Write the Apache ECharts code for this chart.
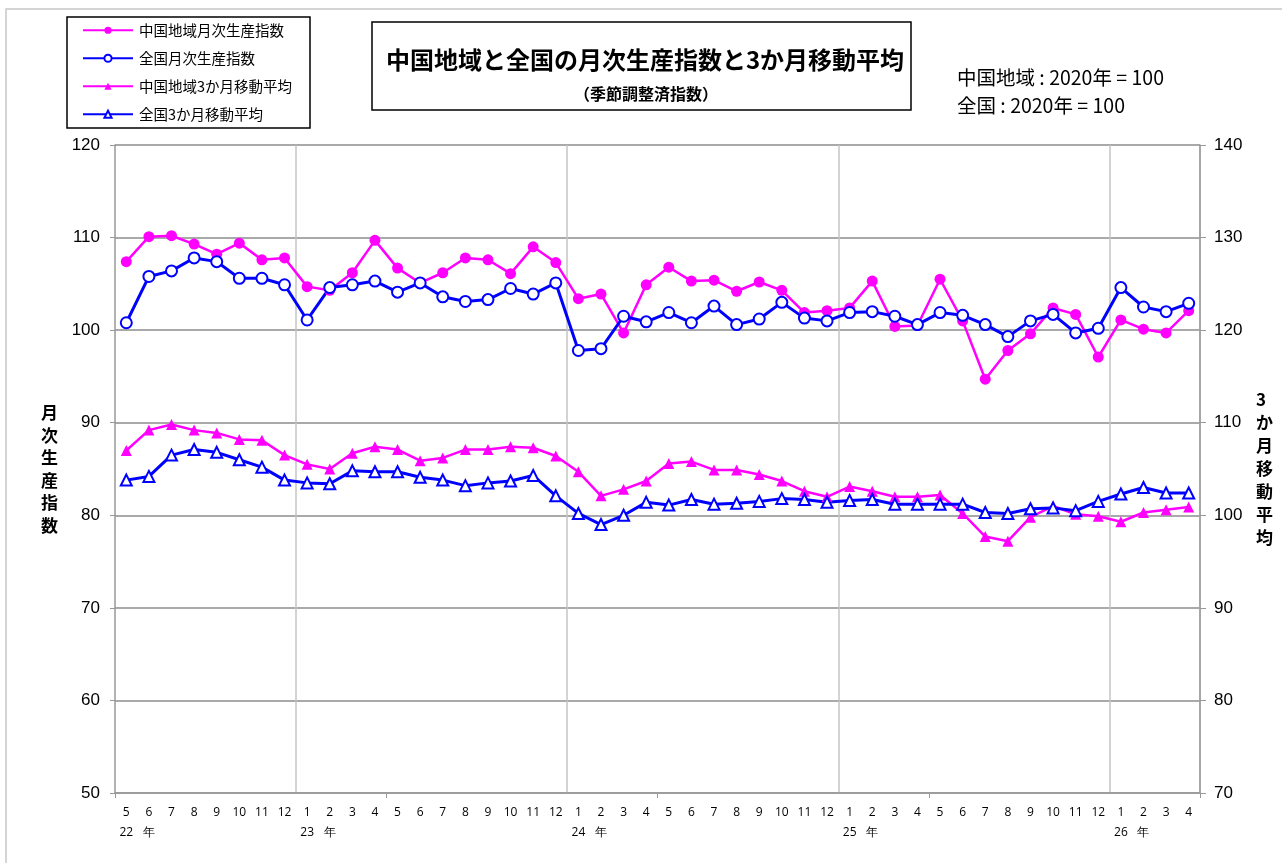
<!DOCTYPE html>
<html><head><meta charset="utf-8">
<script src="https://cdn.jsdelivr.net/npm/echarts@6/dist/echarts.min.js"></script>
<style>html,body{margin:0;padding:0;background:#fff}#c{width:1282px;height:863px}</style>
</head><body><div id="c"></div>
<script>
// categories: 2022-05 .. 2026-04
const months = ['5','6','7','8','9','10','11','12',
  '1','2','3','4','5','6','7','8','9','10','11','12',
  '1','2','3','4','5','6','7','8','9','10','11','12',
  '1','2','3','4','5','6','7','8','9','10','11','12',
  '1','2','3','4'];
const yearTags = ['22','年','','','','','','',
  '23','年','','','','','','','','','','',
  '24','年','','','','','','','','','','',
  '25','年','','','','','','','','','','',
  '26','年','',''];
// monthly index (left axis)
const chugokuMonthly = [107.4,110.1,110.2,109.3,108.2,109.4,107.6,107.8,
  104.7,104.3,106.2,109.7,106.7,105.1,106.2,107.8,107.6,106.1,109.0,107.3,
  103.4,103.9,99.7,104.9,106.8,105.3,105.4,104.2,105.2,104.3,101.9,102.1,
  102.4,105.3,100.4,100.5,105.5,101.0,94.7,97.8,99.6,102.4,101.7,97.1,
  101.1,100.1,99.7,102.1];
const zenkokuMonthly = [100.8,105.8,106.4,107.8,107.4,105.6,105.6,104.9,
  101.1,104.6,104.9,105.3,104.1,105.1,103.6,103.1,103.3,104.5,103.9,105.1,
  97.8,98.0,101.5,100.9,101.9,100.8,102.6,100.6,101.2,103.0,101.3,101.0,
  101.9,102.0,101.5,100.6,101.9,101.6,100.6,99.3,101.0,101.7,99.7,100.2,
  104.6,102.5,102.0,102.9];
// 3-month moving average (right axis)
const chugokuMA = [107.0,109.2,109.8,109.2,108.9,108.2,108.1,106.5,
  105.5,105.0,106.7,107.4,107.1,105.9,106.2,107.1,107.1,107.4,107.3,106.4,
  104.7,102.1,102.8,103.7,105.6,105.8,104.9,104.9,104.4,103.7,102.6,102.0,
  103.1,102.6,102.0,102.0,102.2,100.2,97.7,97.2,99.8,101.0,100.1,99.9,
  99.3,100.3,100.6,100.9];
const zenkokuMA = [103.8,104.2,106.5,107.1,106.8,106.0,105.2,103.8,
  103.5,103.4,104.8,104.7,104.7,104.1,103.8,103.2,103.5,103.7,104.3,102.1,
  100.2,99.0,100.0,101.4,101.1,101.7,101.2,101.3,101.5,101.8,101.7,101.4,
  101.6,101.7,101.2,101.2,101.2,101.2,100.3,100.2,100.7,100.8,100.5,101.5,
  102.3,103.0,102.4,102.4];
const seriesNames = ['中国地域月次生産指数','全国月次生産指数','中国地域3か月移動平均','全国3か月移動平均'];

const MAG = '#ff00ff', BLU = '#0000ff';
const jp = '"Noto Sans CJK JP", sans-serif';
const chart = echarts.init(document.getElementById('c'));
chart.setOption({
  animation: false,
  backgroundColor: '#fff',
  graphic: [
    {type:'rect', shape:{x:6,y:9,width:1290,height:870}, style:{fill:'none', stroke:'#c8c8c8', lineWidth:1.5}, silent:true},
    {type:'rect', shape:{x:67,y:17,width:243,height:111}, style:{fill:'#fff', stroke:'#000', lineWidth:1.5}, silent:true, z:-1},
    {type:'rect', shape:{x:372,y:22,width:539,height:88}, style:{fill:'#fff', stroke:'#000', lineWidth:1.5}, silent:true, z:-1}
  ],
  title: [
    {text:'中国地域と全国の月次生産指数と3か月移動平均', left:640, top:43, textAlign:'center',
     textStyle:{fontFamily:jp, fontSize:24, fontWeight:'bold', color:'#000'}},
    {text:'（季節調整済指数）', left:641, top:81, textAlign:'center',
     textStyle:{fontFamily:jp, fontSize:16, fontWeight:'bold', color:'#000'}},
    {text:'中国地域 : 2020年 = 100', left:952, top:63,
     textStyle:{fontFamily:jp, fontSize:19.5, fontWeight:'normal', color:'#000'}},
    {text:'全国 : 2020年 = 100', left:952, top:91,
     textStyle:{fontFamily:jp, fontSize:19.5, fontWeight:'normal', color:'#000'}}
  ],
  legend: {
    data: seriesNames, orient:'vertical', left:82, top:23, itemGap:13.5, itemWidth:50, itemHeight:9,
    textStyle:{fontFamily:jp, fontSize:14.5, color:'#000', padding:[0,0,0,1]}, padding:0
  },
  grid: {left:115, right:82, top:145, bottom:70, containLabel:false},
  xAxis: {
    type:'category', data: months, boundaryGap:true,
    axisLine:{lineStyle:{color:'#999', width:1.5}},
    axisTick:{show:true, interval:(i)=> i % 12 === 0, length:5, lineStyle:{color:'#999'}},
    splitLine:{show:true, interval:(i)=> months[i] === '1', lineStyle:{color:'#c4c4c4', width:1.5}},
    axisLabel:{interval:0, margin:10, fontFamily:'"Open Sans", sans-serif', fontSize:12, color:'#000', lineHeight:20,
      formatter:(v,i)=> v + '\n' + (yearTags[i] || ' ')}
  },
  yAxis: [
    {type:'value', min:50, max:120, interval:10, position:'left',
     name:'月\n次\n生\n産\n指\n数', nameLocation:'middle', nameGap:57, nameRotate:0,
     nameTextStyle:{fontFamily:jp, fontSize:17, fontWeight:'bold', color:'#000', lineHeight:22.5},
     axisLine:{show:true, lineStyle:{color:'#999', width:1.5}},
     axisTick:{show:true, length:5, lineStyle:{color:'#999'}},
     splitLine:{show:true, lineStyle:{color:'#8c8c8c', width:1.5}},
     axisLabel:{fontFamily:'"Liberation Sans", Arial, sans-serif', fontSize:17, color:'#000', margin:15}},
    {type:'value', min:70, max:140, interval:10, position:'right',
     name:'3\nか\n月\n移\n動\n平\n均', nameLocation:'middle', nameGap:56, nameRotate:0,
     nameTextStyle:{fontFamily:jp, fontSize:17, fontWeight:'bold', color:'#000', lineHeight:23},
     axisLine:{show:true, lineStyle:{color:'#999', width:1.5}},
     axisTick:{show:true, length:6, inside:false, lineStyle:{color:'#999'}},
     splitLine:{show:false},
     axisLabel:{fontFamily:'"Liberation Sans", Arial, sans-serif', fontSize:17, color:'#000', margin:14}}
  ],
  series: [
    {name:seriesNames[0], type:'line', yAxisIndex:0, data:chugokuMonthly,
     symbol:'circle', symbolSize:11, itemStyle:{color:MAG}, lineStyle:{color:MAG, width:2.5}},
    {name:seriesNames[1], type:'line', yAxisIndex:0, data:zenkokuMonthly,
     symbol:'emptyCircle', symbolSize:11, itemStyle:{color:BLU, borderWidth:1.5}, lineStyle:{color:BLU, width:3}},
    {name:seriesNames[2], type:'line', yAxisIndex:1, data:chugokuMA,
     symbol:'triangle', symbolSize:11, itemStyle:{color:MAG}, lineStyle:{color:MAG, width:2.5}},
    {name:seriesNames[3], type:'line', yAxisIndex:1, data:zenkokuMA,
     symbol:'emptyTriangle', symbolSize:11, itemStyle:{color:BLU, borderWidth:1.5}, lineStyle:{color:BLU, width:3}}
  ]
});
</script></body></html>
